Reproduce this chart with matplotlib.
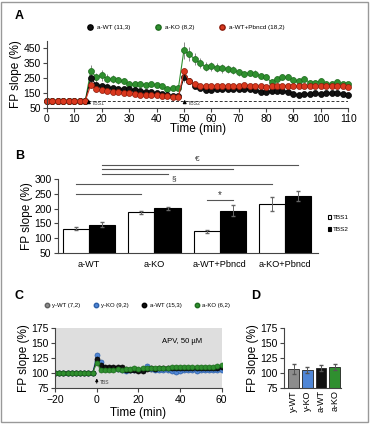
import numpy as np
import matplotlib
matplotlib.use("Agg")
import matplotlib.pyplot as plt
from matplotlib.lines import Line2D
from matplotlib.patches import Rectangle

plt.rcParams["font.family"] = ["Liberation Sans", "DejaVu Sans"]

# ---------- Panel A data ----------
t_a = np.concatenate([np.arange(0, 15, 2), np.arange(16, 49, 2), np.arange(50, 111, 2)])
base_a = [100] * 8

wt_a = base_a + [250, 205, 200, 190, 185, 180, 175, 175, 170, 165, 160, 155, 150, 145, 140, 130, 130,
                 255, 230, 200, 185, 170, 170, 175, 175, 175, 180, 178, 178, 175, 172, 160, 160,
                 165, 165, 165, 160, 142, 140, 142, 145, 148, 145, 150, 152, 148, 145, 140]
ko_a = base_a + [300, 255, 268, 245, 245, 235, 228, 210, 210, 212, 205, 210, 205, 195, 180, 185, 185,
                 435, 410, 375, 350, 325, 330, 320, 315, 310, 305, 290, 278, 285, 280, 265, 255,
                 225, 245, 255, 258, 235, 232, 245, 220, 220, 230, 210, 212, 222, 210, 210]
pb_a = base_a + [205, 175, 170, 165, 160, 155, 150, 148, 145, 140, 140, 135, 135, 130, 130, 125, 125,
                 295, 230, 210, 200, 195, 198, 198, 198, 200, 200, 200, 203, 200, 200, 195, 193,
                 195, 200, 200, 198, 195, 195, 195, 198, 200, 198, 200, 195, 198, 195, 188]
err_base = [8] * 8
wt_err = err_base + [35, 20, 18, 18, 15, 15, 15, 14, 14, 14, 13, 13, 13, 12, 12, 12, 12,
                     30, 20, 18, 16, 15, 15, 15, 15, 15, 15, 15, 15, 15, 15, 14, 14,
                     14, 14, 14, 14, 13, 13, 13, 13, 13, 13, 13, 13, 13, 13, 13]
ko_err = err_base + [40, 30, 35, 30, 28, 22, 20, 18, 18, 18, 16, 16, 16, 15, 15, 15, 15,
                     55, 45, 40, 35, 30, 30, 28, 28, 26, 25, 24, 22, 22, 22, 20, 20,
                     20, 20, 20, 20, 20, 18, 20, 18, 18, 18, 18, 18, 18, 16, 16]
pb_err = err_base + [20, 15, 14, 13, 12, 12, 12, 12, 11, 11, 11, 11, 11, 10, 10, 10, 10,
                     25, 15, 13, 12, 12, 12, 12, 12, 12, 12, 12, 12, 12, 12, 12, 12,
                     12, 12, 12, 12, 12, 12, 12, 12, 12, 12, 12, 12, 12, 12, 12]
legend_a = ["a-WT (11,3)", "a-KO (8,2)", "a-WT+Pbncd (18,2)"]

# ---------- Panel B data ----------
groups_b = ["a-WT", "a-KO", "a-WT+Pbncd", "a-KO+Pbncd"]
tbs1 = [132, 188, 123, 216]
tbs1_err = [5, 5, 6, 23]
tbs2 = [145, 201, 193, 243]
tbs2_err = [8, 4, 18, 18]

# ---------- Panel C data ----------
t_c = np.concatenate([np.arange(-20, -1, 2), np.arange(0, 61, 2)])
base_c = [100] * 10
ywt_c = base_c + [120, 110, 108, 108, 108, 107, 107, 107, 106, 107, 106, 107, 108, 107, 107, 107,
                  107, 107, 107, 107, 107, 108, 108, 107, 107, 108, 108, 108, 108, 108, 108]
yko_c = base_c + [130, 118, 108, 107, 108, 107, 106, 104, 105, 106, 105, 106, 112, 107, 106, 106,
                  105, 105, 104, 102, 104, 105, 105, 105, 104, 105, 105, 105, 105, 106, 106]
awt_c = base_c + [124, 113, 111, 111, 110, 111, 111, 106, 106, 106, 104, 103, 107, 108, 107, 108,
                  108, 108, 108, 108, 108, 108, 108, 108, 108, 109, 109, 109, 109, 109, 110]
ako_c = base_c + [117, 106, 105, 106, 106, 107, 106, 107, 107, 108, 107, 108, 108, 108, 108, 109,
                  109, 109, 110, 110, 110, 110, 111, 110, 111, 110, 111, 111, 111, 112, 113]
legend_c = ["y-WT (7,2)", "y-KO (9,2)", "a-WT (15,3)", "a-KO (6,2)"]

# ---------- Panel D data ----------
groups_d = ["y-WT", "y-KO", "a-WT", "a-KO"]
vals_d = [107, 106, 108, 111]
err_d = [9, 5, 5, 5]

c_black = "#111111"
c_green = "#2f8f2f"
c_red = "#d9381e"
c_blue = "#4f86d6"
c_gray = "#8c8c8c"
edge = {c_black: "#000000", c_green: "#1d6b1d", c_red: "#8b1a0a", c_blue: "#2c5fa8", c_gray: "#5f5f5f"}

fig = plt.figure(figsize=(3.70, 4.24), dpi=100)
fig.patches.append(Rectangle((0.004, 0.004), 0.99, 0.992, transform=fig.transFigure,
                             fill=False, edgecolor="#999999", linewidth=1.0))

tick_fs = 7.5
lab_fs = 8.5


def style(ax):
    ax.spines["top"].set_visible(False)
    ax.spines["right"].set_visible(False)
    for s in ["left", "bottom"]:
        ax.spines[s].set_color("#444444")
        ax.spines[s].set_linewidth(0.8)
    ax.tick_params(labelsize=tick_fs, length=3, width=0.8, color="#444444", pad=1.5)


# ---------- A ----------
axA = fig.add_axes([0.127, 0.745, 0.814, 0.159])
for y, e, c in [(wt_a, wt_err, c_black), (ko_a, ko_err, c_green), (pb_a, pb_err, c_red)]:
    axA.errorbar(t_a, y, yerr=e, fmt="none", ecolor="#888888", elinewidth=0.7, capsize=0)
for y, c in [(ko_a, c_green), (wt_a, c_black), (pb_a, c_red)]:
    axA.plot(t_a, y, "-o", color=c, lw=0.8, ms=4.3, mec=edge[c], mew=0.5, clip_on=False)
axA.hlines(100, 15, 110, colors="#333333", linestyles=(0, (3, 2)), lw=0.7)
axA.annotate("", xy=(15.3, 125), xytext=(15.3, 62),
             arrowprops=dict(arrowstyle="-|>", color="black", lw=0.8, mutation_scale=5))
axA.annotate("", xy=(50.3, 125), xytext=(50.3, 62),
             arrowprops=dict(arrowstyle="-|>", color="black", lw=0.8, mutation_scale=5))
axA.text(16.3, 68, "TBS1", fontsize=3.8, color="#444444")
axA.text(51.3, 68, "TBS2", fontsize=3.8, color="#444444")
axA.set_xlim(0, 110)
axA.set_ylim(50, 500)
axA.set_xticks(np.arange(0, 111, 10))
axA.set_yticks([50, 150, 250, 350, 450])
axA.set_xlabel("Time (min)", fontsize=lab_fs, labelpad=-1)
axA.set_ylabel("FP slope (%)", fontsize=lab_fs, labelpad=1)
style(axA)
hA = [Line2D([], [], marker="o", ls="", color=c, mec=edge[c], ms=3.8) for c in (c_black, c_green, c_red)]
fig.legend(hA, legend_a, ncol=3, fontsize=4.6, frameon=False, loc="center left",
           bbox_to_anchor=(0.222, 0.936), handletextpad=0.6, columnspacing=4.0, handlelength=0.8,
           borderpad=0.4)
fig.text(0.04, 0.955, "A", fontsize=9, fontweight="bold")

# ---------- B ----------
axB = fig.add_axes([0.156, 0.404, 0.703, 0.173])
xb = np.arange(len(groups_b))
w = 0.4
axB.bar(xb - w / 2, tbs1, w, yerr=tbs1_err, color="white", edgecolor="black", linewidth=0.8,
        error_kw=dict(ecolor="#666666", elinewidth=0.7, capsize=1.5), label="TBS1")
axB.bar(xb + w / 2, tbs2, w, yerr=tbs2_err, color="black", edgecolor="black", linewidth=0.8,
        error_kw=dict(ecolor="#666666", elinewidth=0.7, capsize=1.5), label="TBS2")
axB.set_xlim(-0.48, 3.5)
axB.set_ylim(50, 300)
axB.set_yticks(np.arange(50, 301, 50))
axB.set_xticks(xb)
axB.set_xticklabels(groups_b)
axB.set_ylabel("FP slope (%)", fontsize=lab_fs, labelpad=1)
style(axB)
axB.tick_params(axis="x", length=0, pad=5, labelsize=6.6)
# significance lines
sig = [(0.2, 3.2, 349), (0.2, 2.2, 334), (0.2, 1.2, 319), (-0.2, 2.8, 283), (-0.2, 0.8, 250), (1.8, 2.2, 229)]
for x0, x1, yv in sig:
    axB.plot([x0, x1], [yv, yv], color="#555555", lw=0.8, clip_on=False)
axB.text(1.65, 355, "€", fontsize=6, ha="center", va="bottom", color="#333333")
axB.text(1.29, 289, "§", fontsize=6, ha="center", va="bottom", color="#333333")
axB.text(2.0, 231, "*", fontsize=7, ha="center", va="bottom", color="#333333")
axB.legend(fontsize=4.6, frameon=False, loc="center left", bbox_to_anchor=(0.87, 0.473),
           bbox_transform=fig.transFigure, handlelength=0.6, handleheight=0.6,
           handletextpad=0.2, labelspacing=1.0)
fig.text(0.04, 0.625, "B", fontsize=9, fontweight="bold")

# ---------- C ----------
axC = fig.add_axes([0.149, 0.084, 0.45, 0.143])
axC.set_facecolor("#dedede")
series_c = [(ywt_c, c_gray), (yko_c, c_blue), (awt_c, c_black), (ako_c, c_green)]
for y, c in series_c:
    axC.errorbar(t_c, y, yerr=3, fmt="none", ecolor="#999999", elinewidth=0.6, capsize=0)
for y, c in series_c:
    axC.plot(t_c, y, "-o", color=c, lw=0.7, ms=3.6, mec=edge[c], mew=0.5)
axC.annotate("", xy=(0, 96), xytext=(0, 79),
             arrowprops=dict(arrowstyle="-|>", color="black", lw=0.7, mutation_scale=4))
axC.text(1.3, 82, "TBS", fontsize=3.6, color="#444444")
axC.text(41, 152, "APV, 50 µM", fontsize=5.5, ha="center", va="center")
axC.set_xlim(-20, 60)
axC.set_ylim(75, 175)
axC.set_xticks([-20, 0, 20, 40, 60])
axC.set_yticks([75, 100, 125, 150, 175])
axC.set_xlabel("Time (min)", fontsize=lab_fs, labelpad=2)
axC.set_ylabel("FP slope (%)", fontsize=lab_fs, labelpad=1)
style(axC)
hC = [Line2D([], [], marker="o", ls="", color=c, mec=edge[c], ms=3.2) for _, c in series_c]
fig.legend(hC, legend_c, ncol=4, fontsize=4.3, frameon=False, loc="center left",
           bbox_to_anchor=(0.105, 0.279), handletextpad=0.5, columnspacing=2.2, handlelength=0.8,
           borderpad=0.4)
fig.text(0.04, 0.295, "C", fontsize=9, fontweight="bold")

# ---------- D ----------
axD = fig.add_axes([0.768, 0.084, 0.154, 0.143])
xd = np.arange(len(groups_d))
cols_d = [c_gray, c_blue, c_black, c_green]
axD.bar(xd, vals_d, 0.78, yerr=err_d, color=cols_d, edgecolor="#222222", linewidth=0.6,
        error_kw=dict(ecolor="#555555", elinewidth=0.7, capsize=1.5))
axD.set_xlim(-0.69, 3.47)
axD.set_ylim(75, 175)
axD.set_yticks([75, 100, 125, 150, 175])
axD.set_xticks(xd)
axD.set_xticklabels(groups_d, rotation=90)
axD.set_ylabel("FP slope (%)", fontsize=lab_fs, labelpad=1)
style(axD)
axD.tick_params(axis="x", length=0, labelsize=6.5)
fig.text(0.68, 0.295, "D", fontsize=9, fontweight="bold")

fig.savefig("out.png", dpi=100)
